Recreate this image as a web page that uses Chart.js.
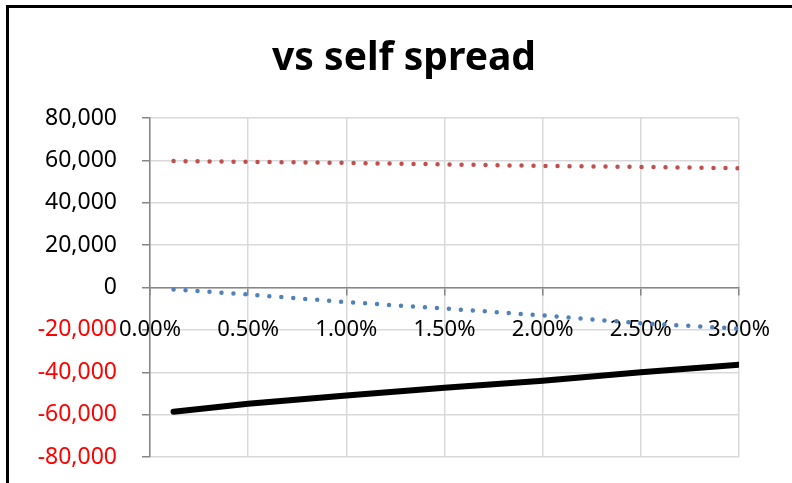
<!DOCTYPE html>
<html>
<head>
<meta charset="utf-8">
<script src="https://cdn.jsdelivr.net/npm/chart.js@4"></script>
<style>
  html, body { margin: 0; padding: 0; background: #fff; }
  #wrap { width: 792px; height: 483px; }
</style>
</head>
<body>
<div id="wrap"><canvas id="spreadChart" width="792" height="483"></canvas></div>
<script>
// spread en % (eixo x)
const spreadPct = [0.12, 0.5, 1.0, 1.5, 2.0, 2.5, 3.0];
// séries
const redSeries = [59700, 59300, 58800, 58100, 57400, 56900, 56300];
const blueSeries = [-900, -3300, -6900, -9900, -13200, -16900, -19400];
const blackSeries = [-58600, -54900, -51000, -47300, -44000, -40000, -36500];

const chartTitle = 'vs self spread';
const yMin = -80000, yMax = 80000, yStep = 20000;
const xMin = 0, xMax = 3, xStep = 0.5;

function toPoints(ys) {
    return spreadPct.map((x, i) => ({ x: x, y: ys[i] }));
}

// moldura (só topo e esquerda aparecem) + título centrado como no original
const frame = {
    id: 'frame',
    afterDraw(chart) {
        const c = chart.ctx;
        c.save();
        c.strokeStyle = '#000';
        c.lineWidth = 3;
        c.beginPath();
        c.moveTo(7.5, 483);
        c.lineTo(7.5, 6.5);
        c.lineTo(792, 6.5);
        c.stroke();

        c.fillStyle = '#000';
        c.font = 'bold 39px "Noto Sans"';
        c.textAlign = 'center';
        c.textBaseline = 'alphabetic';
        c.fillText(chartTitle, 404, 70);
        c.restore();
    }
};

const whiteBg = {
    id: 'whiteBg',
    beforeDraw(chart) {
        const c = chart.ctx;
        c.save();
        c.fillStyle = '#fff';
        c.fillRect(0, 0, chart.width, chart.height);
        c.restore();
    }
};

const ctx = document.getElementById('spreadChart').getContext('2d');
new Chart(ctx, {
    type: 'line',
    data: {
        datasets: [{
            data: toPoints(redSeries),
            borderColor: '#c0504d',
            borderWidth: 4.5,
            borderDash: [0, 12],
            borderCapStyle: 'round',
            pointRadius: 0,
            fill: false
        }, {
            data: toPoints(blueSeries),
            borderColor: '#4f81bd',
            borderWidth: 4.5,
            borderDash: [0, 12],
            borderCapStyle: 'round',
            pointRadius: 0,
            fill: false
        }, {
            data: toPoints(blackSeries),
            borderColor: '#000',
            borderWidth: 6,
            borderCapStyle: 'round',
            pointRadius: 0,
            fill: false
        }]
    },
    options: {
        responsive: false,
        animation: false,
        layout: {
            padding: { left: 0, right: 53, top: 118, bottom: 26 }
        },
        plugins: {
            legend: { display: false },
            tooltip: { enabled: false },
            title: { display: false }
        },
        scales: {
            x: {
                type: 'linear',
                position: { y: 0 },
                min: xMin,
                max: xMax,
                afterFit(scale) {
                    scale.paddingLeft = 0;
                    scale.paddingRight = 0;
                },
                ticks: {
                    stepSize: xStep,
                    color: '#000',
                    padding: 22,
                    font: { family: 'Noto Sans', size: 22 },
                    maxRotation: 0,
                    callback: (v) => v.toFixed(2) + '%'
                },
                grid: {
                    color: '#d9d9d9',
                    lineWidth: 1.5,
                    tickLength: 7,
                    tickColor: '#868686'
                },
                border: { display: true, color: '#868686', width: 1.5 }
            },
            y: {
                min: yMin,
                max: yMax,
                afterFit(scale) {
                    scale.width = 150;
                    scale.paddingTop = 0;
                    scale.paddingBottom = 0;
                },
                ticks: {
                    stepSize: yStep,
                    padding: 25,
                    font: { family: 'Noto Sans', size: 23 },
                    color: (c) => c.tick.value < 0 ? '#ff0000' : '#000',
                    callback: (v) => v.toLocaleString('en-US')
                },
                grid: {
                    color: '#d9d9d9',
                    lineWidth: 1.5,
                    tickLength: 8,
                    tickColor: '#868686'
                },
                border: { display: true, color: '#868686', width: 1.5 }
            }
        }
    },
    plugins: [whiteBg, frame]
});
</script>
</body>
</html>
